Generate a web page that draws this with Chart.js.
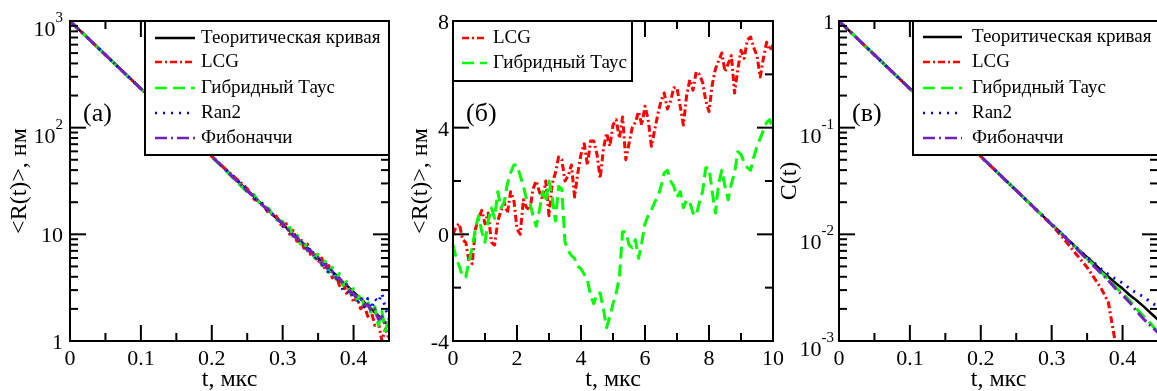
<!DOCTYPE html>
<html>
<head>
<meta charset="utf-8">
<script src="https://cdn.jsdelivr.net/npm/chart.js@4.4.1/dist/chart.umd.min.js"></script>
<style>
html, body { margin: 0; padding: 0; background: #fff; overflow: hidden; width: 1157px; height: 391px; }
canvas { position: absolute; top: 0; }
#chartA { left: 0; }
#chartB { left: 390px; }
#chartC { left: 780px; }
</style>
</head>
<body>
<canvas id="chartA" width="392" height="391"></canvas>
<canvas id="chartB" width="410" height="391"></canvas>
<canvas id="chartC" width="380" height="391"></canvas>
<script>
// ---- panel (a): <R(t)>, log scale ----
const tA = [0, 0.05, 0.1, 0.15, 0.2, 0.25, 0.26, 0.27, 0.28, 0.29,
  0.3, 0.305, 0.31, 0.315, 0.32, 0.325, 0.33, 0.335, 0.34, 0.345, 0.35, 0.355, 0.36, 0.365, 0.37,
  0.375, 0.38, 0.385, 0.39, 0.395, 0.4, 0.405, 0.41, 0.415, 0.42, 0.425, 0.43, 0.435, 0.44, 0.445, 0.45];
const rTheory = [1000, 481, 232, 112, 53.7, 25.8, 22.3, 19.3, 16.7, 14.4,
  12.4, 11.6, 10.75, 10.0, 9.29, 8.63, 8.03, 7.46, 6.93, 6.44, 5.99, 5.57, 5.18, 4.81, 4.47,
  4.16, 3.86, 3.59, 3.34, 3.10, 2.88, 2.68, 2.49, 2.32, 2.15, 2.00, 1.86, 1.73, 1.61, 1.49, 1.39];
const rLCG = [1000, 481, 232, 112, 53.7, 26.8, 21.2, 20.1, 15.8, 15.2,
  11.5, 12.6, 10.0, 10.9, 8.6, 9.3, 7.4, 8.1, 6.3, 6.9, 5.4, 6.0, 4.6, 5.1, 3.9,
  4.3, 3.3, 3.7, 2.8, 3.0, 2.3, 2.6, 2.0, 2.2, 1.7, 1.9, 1.4, 1.5, 1.0, 1.3, 1.05];
const rTaus = [1000, 481, 232, 112, 53.7, 24.9, 23.4, 18.4, 17.6, 13.8,
  13.2, 11.0, 11.6, 9.4, 10.1, 8.1, 8.7, 7.0, 7.5, 6.0, 6.5, 5.1, 5.6, 4.4, 4.9,
  3.8, 4.3, 3.3, 3.6, 2.8, 3.1, 2.4, 2.8, 2.1, 2.4, 1.8, 2.1, 1.4, 1.9, 1.25, 1.6];
const rRan2 = [1000, 481, 232, 112, 53.7, 26.3, 21.8, 19.8, 16.0, 15.0,
  12.0, 10.7, 11.3, 9.2, 9.9, 7.9, 8.5, 6.8, 7.6, 5.9, 6.3, 5.0, 5.6, 4.2, 4.8,
  3.7, 4.0, 3.0, 3.4, 2.6, 2.9, 2.3, 2.6, 2.1, 2.5, 2.0, 2.5, 2.3, 2.8, 2.0, 1.6];
const rFib = [1000, 481, 232, 112, 53.7, 25.4, 22.6, 19.0, 17.0, 14.2,
  12.8, 11.2, 10.9, 9.6, 9.4, 8.3, 8.1, 7.1, 7.0, 6.1, 6.1, 5.3, 5.2, 4.6, 4.5,
  3.9, 3.9, 3.4, 3.4, 2.9, 2.8, 2.5, 2.5, 2.2, 2.2, 1.9, 2.0, 1.6, 1.7, 1.4, 1.4];

// ---- panel (б): <R(t)>, linear ----
const tB = [0, 0.1, 0.2, 0.3, 0.4, 0.5, 0.6, 0.7, 0.8, 0.9,
  1, 1.1, 1.2, 1.3, 1.4, 1.5, 1.6, 1.7, 1.8, 1.9,
  2, 2.1, 2.2, 2.3, 2.4, 2.5, 2.6, 2.7, 2.8, 2.9,
  3, 3.1, 3.2, 3.3, 3.4, 3.5, 3.6, 3.7, 3.8, 3.9,
  4, 4.1, 4.2, 4.3, 4.4, 4.5, 4.6, 4.7, 4.8, 4.9,
  5, 5.1, 5.2, 5.3, 5.4, 5.5, 5.6, 5.7, 5.8, 5.9,
  6, 6.1, 6.2, 6.3, 6.4, 6.5, 6.6, 6.7, 6.8, 6.9,
  7, 7.1, 7.2, 7.3, 7.4, 7.5, 7.6, 7.7, 7.8, 7.9,
  8, 8.1, 8.2, 8.3, 8.4, 8.5, 8.6, 8.7, 8.8, 8.9,
  9, 9.1, 9.2, 9.3, 9.4, 9.5, 9.6, 9.7, 9.8, 9.9, 10];
const bLCG = [0.0, 0.3, 0.4, -0.2, -0.3, -1.0, -1.1, 0.2, 0.6, 0.9,
  0.4, 0.8, -0.3, -0.4, 0.5, 0.9, 1.2, 0.8, 1.6, 1.3,
  0.2, 0.0, 1.3, 1.0, 0.9, 1.7, 2.0, 1.6, 1.3, 2.0,
  0.7, 1.9, 2.3, 2.9, 2.8, 2.0, 2.2, 2.6, 1.4, 2.3,
  3.0, 3.4, 2.6, 3.5, 3.5, 3.0, 2.1, 3.2, 3.8, 3.3,
  4.1, 4.3, 3.6, 4.4, 2.8, 3.4, 4.0, 4.2, 4.6, 4.1,
  4.8, 4.3, 3.3, 3.9, 4.5, 5.0, 5.3, 4.7, 5.0, 5.5,
  5.5, 4.8, 4.1, 5.2, 5.8, 5.4, 6.1, 6.0, 5.7, 5.0,
  4.6, 5.6, 6.2, 6.5, 6.8, 6.1, 6.4, 6.7, 5.3, 6.2,
  6.9, 6.6, 7.3, 7.4, 7.0, 6.7, 5.9, 6.6, 7.2, 6.9, 7.1];
const bTaus = [-0.4, -0.9, -1.2, -1.6, -1.6, -1.0, -0.5, 0.2, 0.7, 0.1,
  -0.3, 0.5, 1.0, 0.6, 1.6, 1.0, 1.2, 1.9, 2.3, 2.6,
  2.6, 2.2, 1.8, 1.3, 1.2, 0.7, 0.3, 0.9, 1.6, 1.2,
  2.0, 1.4, 0.5, 1.8, 1.7, -0.3, -0.6, -0.8, -0.9, -1.2,
  -1.3, -1.5, -1.7, -2.3, -2.6, -2.2, -2.2, -2.8, -3.5, -3.1,
  -2.6, -2.2, -1.6, 0.1, 0.1, -0.4, -0.5, -0.2, -0.9, -0.3,
  0.4, 0.7, 0.9, 1.2, 1.4, 1.8, 2.3, 2.4, 2.0, 1.8,
  1.4, 1.6, 1.0, 1.3, 1.2, 0.8, 0.7, 1.2, 1.6, 2.5,
  2.5, 1.6, 0.8, 1.9, 2.4, 1.8, 1.3, 1.9, 2.3, 3.1,
  3.0, 2.7, 2.5, 2.4, 2.9, 3.3, 3.6, 3.9, 4.2, 4.3, 3.9];

// ---- panel (в): C(t), log scale ----
const tC = [0, 0.05, 0.1, 0.15, 0.2, 0.25, 0.3, 0.31, 0.32, 0.33, 0.34, 0.35, 0.36, 0.37, 0.38, 0.39,
  0.4, 0.41, 0.42, 0.43, 0.44, 0.45];
const cTheory = [1, 0.481, 0.232, 0.112, 0.0537, 0.0258, 0.0124, 0.0108, 0.0093, 0.0081, 0.0070, 0.0061,
  0.0053, 0.0046, 0.0040, 0.0035, 0.0031, 0.0027, 0.0024, 0.0021, 0.00182, 0.00158];
const cLCG = [1, 0.481, 0.232, 0.112, 0.0537, 0.0258, 0.0122, 0.0103, 0.0086, 0.0071, 0.0059, 0.0049,
  0.0039, 0.0031, 0.0023, 0.00095, 0.0003, null, null, null, null, null];
const cTaus = [1, 0.481, 0.232, 0.112, 0.0537, 0.0258, 0.0124, 0.0108, 0.0093, 0.0080, 0.0069, 0.0059,
  0.0051, 0.0044, 0.0038, 0.0032, 0.0028, 0.0024, 0.0020, 0.0017, 0.00145, 0.0012];
const cRan2 = [1, 0.481, 0.232, 0.112, 0.0537, 0.0258, 0.0125, 0.0107, 0.0094, 0.0080, 0.0070, 0.0061,
  0.0054, 0.0047, 0.0042, 0.0038, 0.0035, 0.0031, 0.0028, 0.0026, 0.0023, 0.0021];
const cFib = [1, 0.481, 0.232, 0.112, 0.0537, 0.0258, 0.0123, 0.0107, 0.0092, 0.0079, 0.0068, 0.0058,
  0.0050, 0.0043, 0.0037, 0.0031, 0.0027, 0.0023, 0.0019, 0.0016, 0.00138, 0.0012];

// ---- ticks ----
const xTicksT = [0, 0.1, 0.2, 0.3, 0.4];
const xMinorT = [0.05, 0.15, 0.25, 0.35, 0.45];
const yTicksA = [[1, '1', ''], [10, '10', ''], [100, '10', '2'], [1000, '10', '3']];
const xTicksB = [0, 2, 4, 6, 8, 10];
const xMinorB = [1, 3, 5, 7, 9];
const yTicksB = [[-4, '-4', ''], [0, '0', ''], [4, '4', ''], [8, '8', '']];
const yMinorB = [-2, 2, 6];
const yTicksC = [[0.001, '10', '-3'], [0.01, '10', '-2'], [0.1, '10', '-1'], [1, '1', '']];

const names = ['Теоритическая кривая', 'LCG', 'Гибридный Таус', 'Ran2', 'Фибоначчи'];
const FONT = '"Liberation Serif", "Times New Roman", serif';

const styles = {
  theory: { borderColor: '#000000', borderDash: [] },
  lcg:    { borderColor: '#ff0000', borderDash: [7, 3, 2, 3] },
  taus:   { borderColor: '#00ff00', borderDash: [12, 6] },
  ran2:   { borderColor: '#0000ff', borderDash: [2, 6] },
  fib:    { borderColor: '#7221bc', borderDash: [12, 4, 2, 4] }
};

function series(label, xs, ys, st, order, width) {
  return Object.assign({
    label: label,
    data: xs.map((x, i) => ({ x: x, y: ys[i] })),
    borderWidth: width, pointRadius: 0, tension: 0, fill: false,
    borderJoinStyle: 'round', order: order
  }, st);
}

function logMinor(lo, hi) {
  const out = [];
  for (let d = lo; d < hi; d *= 10)
    for (let k = 2; k <= 9; k++) out.push(k * d);
  return out;
}

function framePlugin(p) {
  return {
    id: 'frame',
    afterDraw(chart) {
      const ctx = chart.ctx, a = chart.chartArea;
      const xs = chart.scales.x, ys = chart.scales.y;
      ctx.save();
      ctx.strokeStyle = '#000';
      ctx.lineWidth = 2;
      const seg = (x0, y0, x1, y1) => { ctx.beginPath(); ctx.moveTo(x0, y0); ctx.lineTo(x1, y1); ctx.stroke(); };
      const xt = (v, len) => { const px = xs.getPixelForValue(v); seg(px, a.bottom, px, a.bottom - len); seg(px, a.top, px, a.top + len); };
      const yt = (v, len) => { const py = ys.getPixelForValue(v); seg(a.left, py, a.left + len, py); seg(a.right, py, a.right - len, py); };
      p.xTicks.forEach(v => xt(v, 16));
      p.xMinor.forEach(v => xt(v, 8));
      p.yTicks.forEach(t => yt(t[0], 16));
      p.yMinor.forEach(v => yt(v, 8));
      ctx.strokeRect(a.left, a.top, a.right - a.left, a.bottom - a.top);

      ctx.fillStyle = '#000';
      // x labels
      ctx.font = '22px ' + FONT;
      ctx.textAlign = 'center';
      ctx.textBaseline = 'alphabetic';
      p.xTicks.forEach(v => ctx.fillText(String(v), xs.getPixelForValue(v), a.bottom + 24));
      // y labels
      const right = a.left - p.yGap;
      p.yTicks.forEach(t => {
        const py = ys.getPixelForValue(t[0]);
        ctx.textAlign = 'right';
        if (t[2]) {
          ctx.font = '15px ' + FONT;
          const w = ctx.measureText(t[2]).width;
          ctx.fillText(t[2], right, py + 1);
          ctx.font = '22px ' + FONT;
          ctx.fillText(t[1], right - w, py + 15);
        } else {
          ctx.font = '22px ' + FONT;
          ctx.fillText(t[1], right, py + 8);
        }
      });
      // axis titles
      ctx.font = '24px ' + FONT;
      ctx.textAlign = 'center';
      ctx.fillText(p.xTitle, (a.left + a.right) / 2, 386);
      ctx.save();
      ctx.translate(p.yTitleX, (a.top + a.bottom) / 2);
      ctx.rotate(-Math.PI / 2);
      ctx.fillText(p.yTitle, 0, 0);
      ctx.restore();
      // panel tag
      ctx.font = '26px ' + FONT;
      ctx.textAlign = 'left';
      ctx.textBaseline = 'middle';
      ctx.fillText(p.tag, a.left + 13, 114);
      ctx.restore();
    }
  };
}

function legendPlugin(o) {
  return {
    id: 'boxLegend',
    afterDraw(chart) {
      const ctx = chart.ctx;
      ctx.save();
      ctx.fillStyle = '#fff';
      ctx.fillRect(o.x, o.y, o.w, o.h);
      ctx.strokeStyle = '#000';
      ctx.lineWidth = 2;
      ctx.strokeRect(o.x, o.y, o.w, o.h);
      ctx.font = '19px ' + FONT;
      ctx.textAlign = 'left';
      ctx.textBaseline = 'middle';
      chart.data.datasets.forEach((ds, i) => {
        const y = o.rows[i];
        ctx.strokeStyle = ds.borderColor;
        ctx.lineWidth = 2.5;
        ctx.setLineDash(ds.borderDash);
        ctx.beginPath();
        ctx.moveTo(o.l0, y);
        ctx.lineTo(o.l1, y);
        ctx.stroke();
        ctx.setLineDash([]);
        ctx.fillStyle = '#000';
        ctx.fillText(ds.label, o.tx, y);
      });
      ctx.restore();
    }
  };
}

function makePanel(id, datasets, sc, frame, legend) {
  return new Chart(document.getElementById(id), {
    type: 'line',
    data: { datasets: datasets },
    options: {
      responsive: false,
      animation: false,
      devicePixelRatio: 1,
      layout: { padding: { left: 0, top: 21, right: sc.padRight, bottom: 0 } },
      scales: {
        x: {
          type: 'linear', min: sc.xMin, max: sc.xMax,
          ticks: { display: false }, grid: { display: false }, border: { display: false },
          afterFit: s => { s.height = 50; }
        },
        y: {
          type: sc.yType, min: sc.yMin, max: sc.yMax,
          ticks: { display: false }, grid: { display: false }, border: { display: false },
          afterFit: s => { s.width = sc.yWidth; }
        }
      },
      plugins: { legend: { display: false }, tooltip: { enabled: false } }
    },
    plugins: [framePlugin(frame), legendPlugin(legend)]
  });
}

makePanel('chartA', [
  series(names[0], tA, rTheory, styles.theory, 4, 2.5),
  series(names[1], tA, rLCG, styles.lcg, 3, 3),
  series(names[2], tA, rTaus, styles.taus, 2, 3),
  series(names[3], tA, rRan2, styles.ran2, 1, 3),
  series(names[4], tA, rFib, styles.fib, 0, 3)
], { xMin: 0, xMax: 0.45, yType: 'logarithmic', yMin: 1, yMax: 1000, yWidth: 70, padRight: 3 },
{ xTicks: xTicksT, xMinor: xMinorT, yTicks: yTicksA, yMinor: logMinor(1, 1000), yGap: 7,
  xTitle: 't, мкс', yTitle: '<R(t)>, нм', yTitleX: 26, tag: '(a)' },
{ x: 145, y: 21, w: 244, h: 134, rows: [38, 62, 88, 113, 138], l0: 155, l1: 195, tx: 201 });

makePanel('chartB', [
  series(names[1], tB, bLCG, styles.lcg, 1, 3),
  series(names[2], tB, bTaus, styles.taus, 0, 3)
], { xMin: 0, xMax: 10, yType: 'linear', yMin: -4, yMax: 8, yWidth: 63, padRight: 27 },
{ xTicks: xTicksB, xMinor: xMinorB, yTicks: yTicksB, yMinor: yMinorB, yGap: 4,
  xTitle: 't, мкс', yTitle: '<R(t)>, нм', yTitleX: 37, tag: '(б)' },
{ x: 63, y: 21, w: 179, h: 60, rows: [38, 63], l0: 72, l1: 97, tx: 103 });

makePanel('chartC', [
  series(names[0], tC, cTheory, styles.theory, 4, 2.5),
  series(names[1], tC, cLCG, styles.lcg, 3, 3),
  series(names[2], tC, cTaus, styles.taus, 2, 3),
  series(names[3], tC, cRan2, styles.ran2, 1, 3),
  series(names[4], tC, cFib, styles.fib, 0, 3)
], { xMin: 0, xMax: 0.45, yType: 'logarithmic', yMin: 0.001, yMax: 1, yWidth: 59, padRight: 2 },
{ xTicks: xTicksT, xMinor: xMinorT, yTicks: yTicksC, yMinor: logMinor(0.001, 1), yGap: 5,
  xTitle: 't, мкс', yTitle: 'C(t)', yTitleX: 16, tag: '(в)' },
{ x: 133, y: 21, w: 260, h: 134, rows: [37, 62, 88, 113, 138], l0: 143, l1: 182, tx: 192 });
</script>
</body>
</html>
